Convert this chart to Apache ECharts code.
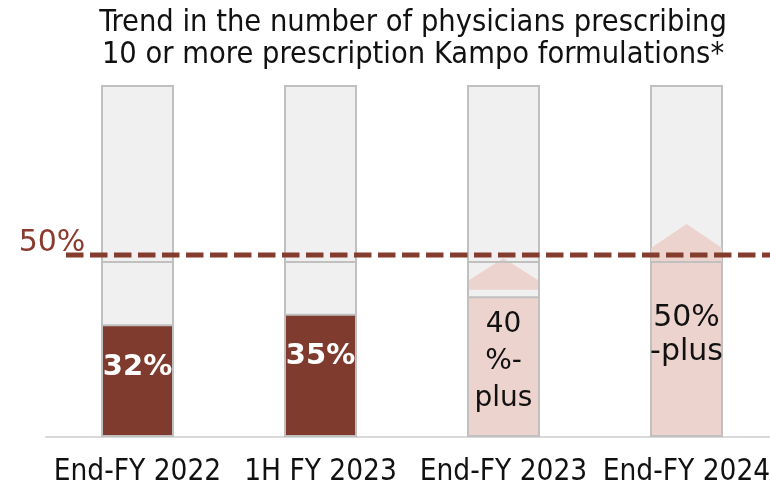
<!DOCTYPE html>
<html>
<head>
<meta charset="utf-8">
<script src="https://cdn.jsdelivr.net/npm/echarts@6/dist/echarts.min.js"></script>
<style>
  html, body { margin: 0; padding: 0; background: #fff; }
  #chart { width: 770px; height: 487px; }
</style>
</head>
<body>
<div id="chart"></div>
<script>
// Share of physicians prescribing 10+ Kampo formulations (%)
const categories = ['End-FY 2022', '1H FY 2023', 'End-FY 2023', 'End-FY 2024'];
const shareValues = [32, 35, 40, 50];
const isTarget = [false, false, true, true];
const valueLabels = ['32%', '35%', '40\n%-\nplus', '50%\n-plus'];
const fullScale = [100, 100, 100, 100];
const halfMark = [50, 50, 50, 50];

// Upward arrows above the target bars (% units): base, shoulder, tip
const arrowBase = [null, null, 41.8, 50];
const arrowShoulder = [null, null, 44.4, 53.7];
const arrowTip = [null, null, 50.8, 60.5];

const thresholdValue = 50;
const thresholdLabel = '50%';

const FONT = '"DejaVu Sans Condensed", "DejaVu Sans", sans-serif';
const DARK = '#7f3b2d';
const PINK = '#edd3ce';
const BG = '#f0f0f0';
const EDGE = '#c0c0c0';
const BAR_W = 73;

const chart = echarts.init(document.getElementById('chart'), null, { renderer: 'canvas' });

const valueData = shareValues.map((v, i) => {
  const target = isTarget[i];
  const item = {
    value: v,
    itemStyle: { color: target ? PINK : DARK, borderColor: EDGE, borderWidth: 2 },
    label: {
      show: true,
      formatter: valueLabels[i],
      position: 'insideTop',
      fontFamily: '"DejaVu Sans", sans-serif',
      fontWeight: target ? 'normal' : 'bold',
      fontSize: target ? 28 : 29,
      color: target ? '#111' : '#fff',
      lineHeight: target ? 37 : 30,
      distance: target ? 10 : 28
    }
  };
  if (i === 3) {
    item.label.lineHeight = 34;
    item.label.distance = 40;
    item.label.fontSize = 30;
  }
  return item;
});

const arrowData = [];
categories.forEach((c, i) => {
  if (arrowTip[i] != null) arrowData.push([i, arrowBase[i], arrowShoulder[i], arrowTip[i]]);
});

const option = {
  animation: false,
  backgroundColor: '#fff',
  graphic: [{
    type: 'text',
    x: 413,
    y: 7,
    silent: true,
    style: {
      text: 'Trend in the number of physicians prescribing\n10 or more prescription Kampo formulations*',
      align: 'center',
      verticalAlign: 'top',
      font: '30.5px ' + FONT,
      lineHeight: 32,
      fill: '#111'
    }
  }],
  grid: [
    { left: 46, width: 732, top: 85, bottom: 50, outerBoundsMode: 'none', containLabel: false },
    { left: 66, right: 0, top: 85, bottom: 50, outerBoundsMode: 'none', containLabel: false }
  ],
  xAxis: [
    {
      type: 'category',
      gridIndex: 0,
      data: categories,
      axisLine: { lineStyle: { color: '#d9d9d9', width: 2 } },
      axisTick: { show: false },
      axisLabel: { color: '#111', fontSize: 29.5, fontFamily: FONT, margin: 20, interval: 0 }
    },
    { type: 'value', gridIndex: 1, min: 0, max: 1, show: false }
  ],
  yAxis: [
    { type: 'value', gridIndex: 0, min: 0, max: 100, show: false },
    { type: 'value', gridIndex: 1, min: 0, max: 96.7, show: false }
  ],
  series: [
    {
      name: 'scale',
      type: 'bar',
      data: fullScale,
      barWidth: BAR_W,
      silent: true,
      z: 1,
      itemStyle: { color: BG, borderColor: EDGE, borderWidth: 2 }
    },
    {
      type: 'custom',
      name: 'arrows',
      silent: true,
      z: 2,
      data: arrowData,
      renderItem: function (params, api) {
        const x = api.value(0);
        const base = api.coord([x, api.value(1)]);
        const shoulder = api.coord([x, api.value(2)]);
        const tip = api.coord([x, api.value(3)]);
        const hw = BAR_W / 2 - 1;
        return {
          type: 'polygon',
          shape: {
            points: [
              [base[0] - hw, base[1]],
              [base[0] - hw, shoulder[1]],
              [tip[0], tip[1]],
              [base[0] + hw, shoulder[1]],
              [base[0] + hw, base[1]]
            ]
          },
          style: { fill: PINK }
        };
      }
    },
    {
      name: 'half',
      type: 'bar',
      data: halfMark,
      barWidth: BAR_W,
      barGap: '-100%',
      silent: true,
      z: 3,
      itemStyle: { color: 'rgba(0,0,0,0)', borderColor: EDGE, borderWidth: 2 }
    },
    {
      name: 'share',
      type: 'bar',
      data: valueData,
      barWidth: BAR_W,
      barGap: '-100%',
      silent: true,
      z: 4
    },
    {
      name: 'threshold',
      type: 'line',
      xAxisIndex: 1,
      yAxisIndex: 1,
      silent: true,
      z: 10,
      symbol: 'circle',
      symbolSize: 1,
      itemStyle: { color: 'rgba(0,0,0,0)' },
      lineStyle: { color: '#843c2f', width: 5, type: [17.5, 6.5], cap: 'butt' },
      data: [
        {
          value: [0, thresholdValue],
          label: {
            show: true,
            formatter: thresholdLabel,
            position: 'top',
            distance: 0,
            offset: [-14, 4],
            fontSize: 30,
            fontFamily: '"DejaVu Sans", sans-serif',
            color: '#8b3a2e'
          }
        },
        [1, thresholdValue]
      ]
    }
  ]
};

chart.setOption(option);
</script>
</body>
</html>
